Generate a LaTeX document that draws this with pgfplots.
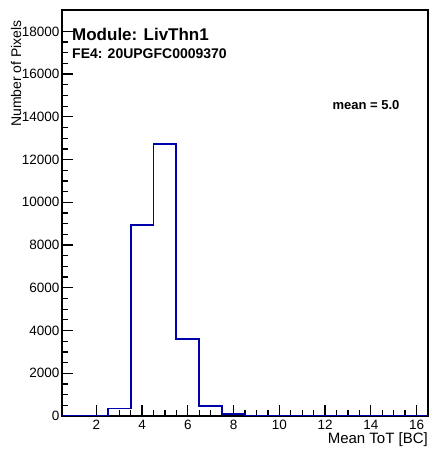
\documentclass[border=0pt]{standalone}
\usepackage{fontspec}
\setmainfont{Liberation Sans}
\usepackage{pgfplots}
\pgfplotsset{compat=1.18}
\definecolor{histblue}{RGB}{0,0,170}
\begin{document}
\begin{tikzpicture}
\useasboundingbox (-62pt,-38pt) rectangle (369pt,416pt);
\begin{axis}[
  scale only axis,
  width=366pt, height=406pt,
  at={(0pt,0pt)}, anchor=south west,
  xmin=0.5, xmax=16.5, ymin=0, ymax=19000,
  xtick={2,4,...,16}, ytick={0,2000,...,18000},
  minor x tick num=3, minor y tick num=3,
  tick align=inside,
  xtick pos=left, ytick pos=left,
  major tick length=11pt, minor tick length=6pt,
  axis line style={line width=1.6pt},
  every tick/.style={black, line width=1.3pt},
  scaled y ticks=false,
  /pgf/number format/assume math mode=true,
  /pgf/number format/1000 sep={},
  tick label style={font=\fontsize{13.5}{15}\selectfont},
  xticklabel style={yshift=-1pt},
  yticklabel style={xshift=1pt},
  clip=true,
]
\addplot[const plot, histblue, line width=1.9pt] coordinates {
  (0.5,0) (1.5,0) (2.5,350) (3.5,8950) (4.5,12730) (5.5,3600) (6.5,450) (7.5,80) (8.5,0)
  (9.5,0) (10.5,0) (11.5,0) (12.5,0) (13.5,0) (14.5,0) (15.5,0) (16.5,0)
};
\node[anchor=west, font=\fontsize{17}{19}\bfseries\selectfont, inner sep=0pt] at ([xshift=10pt,yshift=-24pt]rel axis cs:0,1) {Module: LivThn1};
\node[anchor=west, font=\fontsize{14}{16}\bfseries\selectfont, inner sep=0pt] at ([xshift=10pt,yshift=-44pt]rel axis cs:0,1) {FE4: 20UPGFC0009370};
\node[font=\fontsize{13}{15}\bfseries\selectfont, inner sep=0pt] at ([xshift=304pt,yshift=-95pt]rel axis cs:0,1) {mean = 5.0};
\end{axis}
\node[anchor=east, rotate=90, font=\fontsize{14}{16}\selectfont, inner sep=0pt] at (-46pt,396pt) {Number of Pixels};
\node[anchor=east, font=\fontsize{15}{17}\selectfont, inner sep=0pt] at (366pt,-24pt) {Mean ToT [BC]};
\end{tikzpicture}
\end{document}
